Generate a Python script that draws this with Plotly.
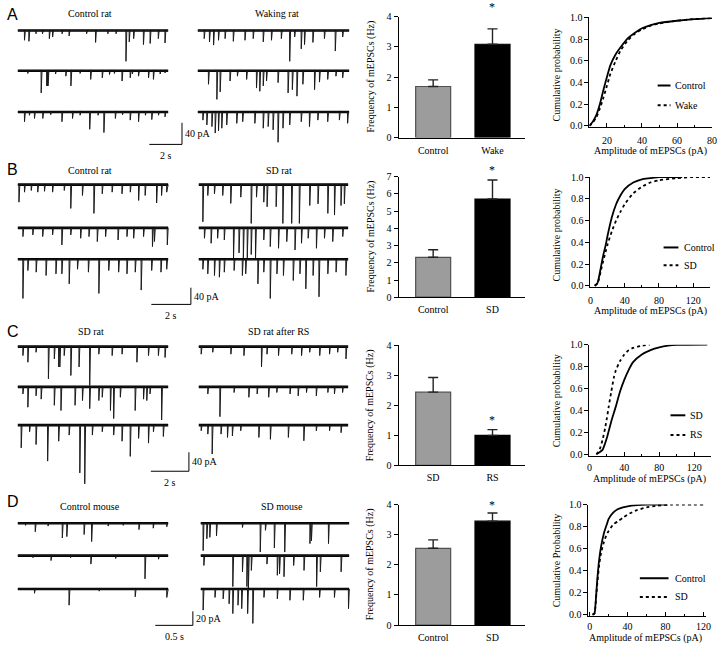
import plotly.graph_objects as go

W, H = 720, 650
SERIF = "Liberation Serif, Times New Roman, serif"
SANS = "Liberation Sans, Arial, sans-serif"

# ------------------------------------------------------------------ data
# mEPSC sweeps: event times (s) and amplitudes (pA), three sweeps per condition
A_ctrl_t = [[0.40, 0.67, 1.10, 1.50, 1.92, 2.12, 2.70, 3.13, 4.20, 4.75, 5.50, 6.00, 6.61, 6.81, 7.08, 7.68, 8.09, 8.59, 9.00],
            [0.60, 1.42, 1.76, 1.80, 1.84, 2.30, 2.93, 3.24, 3.80, 4.45, 5.16, 5.60, 5.90, 6.37, 6.87, 7.00, 7.38, 7.99, 8.29, 8.70, 9.00],
            [0.40, 0.70, 1.01, 1.52, 2.00, 2.69, 3.34, 3.80, 4.39, 4.90, 5.26, 5.96, 6.40, 6.87, 7.38, 7.80, 8.19, 8.60, 9.00]]
A_ctrl_a = [[18, 20, 6, 6, 15, 12, 6, 10, 6, 22, 6, 6, 57, 21, 15, 26, 24, 15, 23],
            [5, 41, 28, 28, 28, 6, 10, 28, 5, 16, 13, 7, 5, 19, 13, 6, 10, 13, 16, 6, 4],
            [18, 6, 12, 12, 5, 18, 12, 6, 32, 6, 38, 12, 5, 15, 18, 6, 14, 6, 9]]
A_wake_t = [[0.38, 0.70, 0.95, 1.25, 1.65, 2.15, 2.86, 3.36, 3.97, 4.47, 5.07, 5.58, 5.88, 6.28, 6.48, 6.99, 7.69, 8.35, 8.80],
            [0.64, 1.15, 1.35, 1.95, 2.40, 2.96, 3.56, 3.76, 3.97, 4.17, 4.87, 5.48, 5.74, 6.02, 6.38, 7.09, 7.39, 7.89, 8.39, 8.80],
            [0.30, 0.54, 0.85, 1.05, 1.25, 1.45, 1.75, 2.36, 2.72, 3.46, 3.97, 4.27, 4.57, 4.87, 5.17, 5.58, 6.28, 6.78, 7.29, 7.89, 8.60, 9.10]]
A_wake_a = [[15, 21, 27, 18, 15, 20, 18, 15, 21, 18, 15, 57, 12, 34, 26, 22, 15, 38, 12],
            [25, 53, 39, 19, 10, 16, 32, 38, 28, 19, 22, 41, 35, 47, 25, 35, 21, 16, 10, 13],
            [15, 24, 27, 39, 35, 30, 24, 21, 18, 21, 30, 27, 33, 56, 30, 24, 18, 27, 15, 18, 15, 21]]

B_ctrl_t = [[0.05, 0.33, 0.67, 1.00, 1.34, 1.75, 2.34, 2.67, 3.26, 3.84, 4.26, 4.76, 5.26, 5.68, 6.10, 6.43, 7.01, 7.26, 7.52],
            [0.25, 0.75, 1.25, 1.75, 2.22, 2.67, 3.17, 3.59, 4.01, 4.43, 5.06, 5.51, 5.85, 6.35, 6.80, 6.90, 7.55],
            [0.25, 0.50, 0.92, 1.42, 1.92, 2.22, 2.59, 3.01, 3.56, 4.09, 4.59, 5.09, 5.51, 5.93, 6.23, 6.76, 7.23, 7.52]]
B_ctrl_a = [[42, 18, 14, 18, 16, 18, 14, 57, 26, 69, 22, 18, 22, 18, 38, 26, 44, 26, 18],
            [21, 17, 21, 17, 41, 17, 25, 21, 33, 21, 29, 21, 25, 21, 45, 33, 41],
            [94, 27, 31, 39, 35, 35, 59, 24, 31, 82, 27, 31, 35, 31, 74, 27, 31, 24]]
B_sd_t = [[0.20, 0.45, 0.79, 1.21, 1.62, 2.13, 2.66, 2.93, 3.30, 3.47, 3.93, 4.27, 4.72, 5.11, 5.64, 6.06, 6.56, 6.90, 7.23, 7.40],
          [0.28, 0.62, 0.95, 1.29, 1.76, 2.04, 2.26, 2.46, 2.66, 2.88, 3.30, 3.63, 4.05, 4.47, 4.89, 5.22, 5.56, 5.98, 6.39, 6.81, 7.32],
          [0.20, 0.45, 0.79, 1.04, 1.29, 1.79, 2.21, 2.38, 3.00, 3.30, 3.63, 3.97, 4.30, 4.80, 5.14, 5.44, 5.81, 6.11, 6.56, 6.98, 7.48]]
B_sd_a = [[89, 26, 22, 26, 45, 30, 93, 30, 42, 53, 53, 93, 93, 93, 50, 46, 69, 73, 50, 46],
          [25, 37, 25, 29, 72, 60, 72, 72, 64, 72, 29, 45, 49, 33, 53, 37, 25, 49, 25, 33, 21],
          [24, 35, 39, 43, 31, 27, 39, 35, 59, 31, 94, 35, 39, 51, 35, 71, 39, 90, 35, 31, 39]]

C_sd_t = [[0.26, 0.52, 0.95, 1.60, 1.91, 2.14, 2.20, 2.43, 2.78, 3.21, 3.77, 4.25, 4.95, 5.47, 6.25, 6.86, 7.38, 7.73],
          [0.26, 0.52, 0.95, 1.22, 1.91, 2.26, 3.00, 3.39, 3.77, 4.25, 4.43, 4.86, 5.03, 5.38, 6.16, 6.60, 6.77, 6.94, 7.55],
          [0.17, 0.61, 0.95, 1.56, 2.14, 2.69, 3.25, 3.51, 3.91, 4.43, 5.03, 5.47, 5.90, 6.34, 6.86, 7.12, 7.64]]
C_sd_a = [[19, 33, 12, 68, 26, 43, 43, 19, 61, 43, 82, 16, 19, 16, 33, 19, 19, 23],
          [15, 43, 19, 26, 39, 50, 39, 29, 46, 29, 22, 50, 67, 22, 50, 26, 29, 15, 70],
          [48, 14, 41, 76, 34, 21, 101, 124, 21, 14, 21, 34, 66, 28, 38, 14, 24]]
C_rs_t = [[0.12, 0.73, 1.69, 2.38, 3.31, 3.60, 4.21, 4.91, 5.43, 5.86, 6.39, 6.91, 7.34, 7.78],
          [0.47, 1.11, 1.86, 2.64, 3.08, 3.69, 4.12, 4.82, 5.25, 5.69, 6.21, 6.82, 7.17, 7.60],
          [0.12, 0.47, 0.70, 1.17, 1.51, 1.77, 2.21, 3.17, 3.78, 4.73, 5.55, 6.21, 6.91, 7.52]]
C_rs_a = [[16, 12, 16, 19, 43, 16, 19, 16, 19, 12, 19, 16, 12, 26],
          [15, 63, 12, 22, 15, 22, 12, 15, 19, 12, 19, 12, 15, 12],
          [12, 19, 61, 19, 26, 23, 12, 26, 30, 26, 33, 12, 12, 16]]

D_ctrl_t = [[0.10, 0.23, 0.40, 0.59, 0.65, 0.88, 0.98, 1.20, 1.40, 1.61, 1.80, 1.98],
            [0.20, 0.44, 0.70, 0.97, 1.30, 1.69, 1.87],
            [0.22, 0.68, 1.08, 1.56, 1.98]]
D_ctrl_a = [[3, 12, 4, 21, 19, 16, 26, 4, 3, 9, 7, 5],
            [3, 7, 3, 12, 4, 33, 5],
            [6, 23, 3, 11, 12]]
D_sd_t = [[0.03, 0.08, 0.12, 0.21, 0.56, 0.80, 0.87, 0.99, 1.13, 1.47, 1.49, 1.72],
          [0.04, 0.43, 0.56, 0.62, 0.64, 0.68, 0.89, 1.03, 1.06, 1.12, 1.25, 1.39, 1.56, 1.61, 1.89],
          [0.03, 0.19, 0.30, 0.38, 0.43, 0.50, 0.55, 0.63, 0.70, 0.85, 1.03, 1.20, 1.38, 1.60, 1.80, 1.99]]
D_sd_a = [[39, 22, 20, 18, 6, 41, 10, 35, 41, 29, 25, 29],
          [14, 44, 23, 44, 46, 21, 12, 28, 26, 30, 14, 21, 44, 23, 23],
          [30, 12, 14, 21, 35, 23, 28, 35, 49, 12, 14, 16, 16, 12, 12, 28]]

# mEPSC frequency (Hz): mean and SEM
freq_A, sem_A, cats_A = [1.69, 3.09], [0.22, 0.51], ["Control", "Wake"]
freq_B, sem_B, cats_B = [2.32, 5.71], [0.44, 1.10], ["Control", "SD"]
freq_C, sem_C, cats_C = [2.44, 1.00], [0.49, 0.19], ["SD", "RS"]
freq_D, sem_D, cats_D = [2.55, 3.45], [0.28, 0.27], ["Control", "SD"]

# cumulative amplitude distributions (pA, probability)
cumA_ctrl_x = [10, 12, 14, 16, 18, 20, 22, 25, 28, 32, 36, 40, 45, 50, 60, 70, 80]
cumA_ctrl_y = [0, 0.04, 0.10, 0.20, 0.33, 0.45, 0.56, 0.66, 0.73, 0.81, 0.86, 0.90, 0.93, 0.95, 0.97, 0.985, 0.995]
cumA_wake_x = [10, 12, 14, 16, 18, 20, 22, 25, 28, 32, 36, 40, 45, 50, 60, 70, 80]
cumA_wake_y = [0, 0.03, 0.08, 0.16, 0.26, 0.37, 0.48, 0.60, 0.70, 0.79, 0.85, 0.89, 0.925, 0.945, 0.97, 0.985, 0.995]
cumB_ctrl_x = [5, 8, 10, 12, 15, 18, 20, 25, 30, 35, 40, 50, 60, 70, 80, 90, 107]
cumB_ctrl_y = [0, 0.02, 0.08, 0.16, 0.28, 0.38, 0.46, 0.63, 0.75, 0.83, 0.89, 0.95, 0.98, 0.99, 1.0, 1.0, 1.0]
cumB_sd_x = [5, 8, 10, 12, 15, 18, 20, 25, 30, 35, 40, 50, 60, 70, 80, 100, 120, 140]
cumB_sd_y = [0, 0.02, 0.06, 0.13, 0.23, 0.32, 0.38, 0.50, 0.60, 0.68, 0.75, 0.85, 0.91, 0.95, 0.97, 0.99, 1.0, 1.0]
cumC_sd_x = [8, 12, 15, 18, 20, 25, 30, 35, 40, 45, 50, 60, 70, 80, 90, 100, 135]
cumC_sd_y = [0, 0.02, 0.04, 0.10, 0.15, 0.30, 0.43, 0.57, 0.68, 0.77, 0.84, 0.91, 0.95, 0.975, 0.99, 0.997, 1.0]
cumC_rs_x = [8, 10, 12, 15, 18, 20, 22, 25, 28, 30, 35, 40, 45, 50, 60, 69]
cumC_rs_y = [0, 0.02, 0.05, 0.13, 0.24, 0.33, 0.43, 0.57, 0.70, 0.76, 0.85, 0.91, 0.95, 0.97, 0.99, 1.0]
cumD_ctrl_x = [3, 5, 6, 7, 8, 10, 12, 15, 18, 20, 25, 30, 35, 40, 50, 60, 82]
cumD_ctrl_y = [0, 0.01, 0.08, 0.20, 0.32, 0.50, 0.62, 0.74, 0.82, 0.87, 0.93, 0.96, 0.975, 0.985, 0.995, 1.0, 1.0]
cumD_sd_x = [3, 5, 6, 7, 8, 10, 12, 15, 18, 20, 25, 30, 35, 40, 50, 60, 70, 85, 120]
cumD_sd_y = [0, 0.01, 0.07, 0.18, 0.28, 0.45, 0.56, 0.66, 0.73, 0.76, 0.82, 0.85, 0.88, 0.91, 0.95, 0.975, 0.99, 1.0, 1.0]

# ------------------------------------------------------------------ helpers
fig = go.Figure()
shapes, annos = [], []
n_ax = [0]


def lin(va, pa, vb, pb):
    return lambda v: pa + (v - va) * (pb - pa) / (vb - va)


def add_axes(xmap, ymap, xr, yr, xopts=None, yopts=None):
    n_ax[0] += 1
    s = "" if n_ax[0] == 1 else str(n_ax[0])
    px0, px1 = sorted([xmap(xr[0]), xmap(xr[1])])
    py0, py1 = sorted([ymap(yr[0]), ymap(yr[1])])
    xa = dict(domain=[max(0, px0 / W), min(1, px1 / W)], range=list(xr), anchor="y" + s, fixedrange=True)
    ya = dict(domain=[max(0, 1 - py1 / H), min(1, 1 - py0 / H)], range=list(yr), anchor="x" + s, fixedrange=True)
    xa.update(xopts or {})
    ya.update(yopts or {})
    fig.update_layout(**{"xaxis" + s: xa, "yaxis" + s: ya})
    return "x" + s, "y" + s


def text(x, y, t, size=10, family=SERIF, xanchor="center", yanchor="middle", **kw):
    annos.append(dict(x=x / W, y=1 - y / H, xref="paper", yref="paper", text=t, showarrow=False,
                      xanchor=xanchor, yanchor=yanchor,
                      font=dict(family=family, size=size, color="black"), **kw))


HIDDEN = dict(visible=False, showgrid=False, zeroline=False)

# ------------------------------------------------------------------ traces
TRACE_ROWS = [
    dict(letter="A", letter_y=9, title_y=8, titles=("Control rat", "Waking rat"), title_x=(88, 277),
         left=(15, 167), right=(197, 350), bases=(25, 66, 108), pxpa=22 / 40, dur=9.2, decay=0.06,
         top=12, bottom=162, corner=(181, 141), bar=(40, 2), bar_txt=("40 pA", "2 s"),
         data=((A_ctrl_t, A_ctrl_a), (A_wake_t, A_wake_a))),
    dict(letter="B", letter_y=167, title_y=168, titles=("Control rat", "SD rat"), title_x=(88, 279),
         left=(15, 167), right=(198, 349), bases=(182, 226, 258), pxpa=17 / 40, dur=7.6, decay=0.05,
         top=170, bottom=320, corner=(190, 304), bar=(40, 2), bar_txt=("40 pA", "2 s"),
         data=((B_ctrl_t, B_ctrl_a), (B_sd_t, B_sd_a))),
    dict(letter="C", letter_y=332, title_y=332, titles=("SD rat", "SD rat after RS"), title_x=(89, 279),
         left=(15, 167), right=(198, 349), bases=(347, 388, 427), pxpa=19.3 / 40, dur=7.9, decay=0.05,
         top=335, bottom=492, corner=(188, 474), bar=(40, 2), bar_txt=("40 pA", "2 s"),
         data=((C_sd_t, C_sd_a), (C_rs_t, C_rs_a))),
    dict(letter="D", letter_y=505, title_y=510, titles=("Control mouse", "SD mouse"), title_x=(88, 282),
         left=(15, 167), right=(200, 350), bases=(527, 560, 594), pxpa=14.3 / 20, dur=2.0, decay=0.013,
         top=515, bottom=645, corner=(192, 631), bar=(20, 0.5), bar_txt=("20 pA", "0.5 s"),
         data=((D_ctrl_t, D_ctrl_a), (D_sd_t, D_sd_a))),
]

for row in TRACE_ROWS:
    text(2, row["letter_y"], row["letter"], size=16, family=SANS, xanchor="left")
    for tx, tt in zip(row["title_x"], row["titles"]):
        text(tx, row["title_y"], tt, size=10)
    b0, k, dur = row["bases"][0], row["pxpa"], row["dur"]
    ymap = lin(0, b0, -1, b0 + k)
    yinv = lin(b0, 0, b0 + k, -1)
    offsets = [yinv(b) for b in row["bases"]]
    for ci, (col, box, (tlist, alist)) in enumerate(zip((row["left"], row["right"]),
                                                      ((4, 200), (185, 358)), row["data"])):
        xmap = lin(0, col[0], dur, col[1])
        xinv = lin(col[0], 0, col[1], dur)
        xr = (xinv(box[0]), xinv(box[1]))
        yr = (yinv(row["bottom"]), yinv(row["top"]))
        xa, ya = add_axes(xmap, ymap, xr, yr, HIDDEN, HIDDEN)
        for off, ts, amps in zip(offsets, tlist, alist):
            # baseline (noise band)
            fig.add_trace(go.Scatter(x=[0, dur], y=[off, off], mode="lines", xaxis=xa, yaxis=ya,
                                     line=dict(color="black", width=2.6), hoverinfo="skip", showlegend=False))
            xs, ys = [0], [off]
            for t, a in sorted(zip(ts, amps)):
                xs += [t, t + row["decay"] * 0.15, t + row["decay"]]
                ys += [off, off - a, off]
            xs.append(dur)
            ys.append(off)
            fig.add_trace(go.Scatter(x=xs, y=ys, mode="lines", xaxis=xa, yaxis=ya,
                                     line=dict(color="#1a1a1a", width=1), hoverinfo="skip", showlegend=False))
        if ci == 0:
            ct, cv = xinv(row["corner"][0]), yinv(row["corner"][1])
            bp, bs = row["bar"]
            shapes.append(dict(type="line", xref=xa, yref=ya, x0=ct, x1=ct, y0=cv, y1=cv + bp,
                               line=dict(color="black", width=1)))
            shapes.append(dict(type="line", xref=xa, yref=ya, x0=ct - bs, x1=ct, y0=cv, y1=cv,
                               line=dict(color="black", width=1)))
            annos.append(dict(x=ct, y=cv + bp / 2, xref=xa, yref=ya, text=row["bar_txt"][0], showarrow=False,
                              xanchor="left", yanchor="middle", xshift=1,
                              font=dict(family=SERIF, size=10, color="black")))
            annos.append(dict(x=ct - bs / 2, y=cv, xref=xa, yref=ya, text=row["bar_txt"][1], showarrow=False,
                              xanchor="center", yanchor="top", yshift=-4,
                              font=dict(family=SERIF, size=10, color="black")))

# ------------------------------------------------------------------ bar charts
BAR_ROWS = [
    dict(vals=freq_A, errs=sem_A, cats=cats_A, y0=134, ytop=11, ymax=4, star=1, sshift=13, tcy=72),
    dict(vals=freq_B, errs=sem_B, cats=cats_B, y0=296.7, ytop=174, ymax=7, star=1, sshift=1, tcy=235),
    dict(vals=freq_C, errs=sem_C, cats=cats_C, y0=468, ytop=345.7, ymax=4, star=1, sshift=1, tcy=407),
    dict(vals=freq_D, errs=sem_D, cats=cats_D, y0=630.7, ytop=508, ymax=4, star=1, sshift=-1, tcy=569),
]
AXFONT = dict(family=SERIF, size=10, color="black")
for br in BAR_ROWS:
    xmap = lin(0, 435, 1, 495)
    ymap = lin(0, br["y0"], br["ymax"], br["ytop"])
    xa, ya = add_axes(xmap, ymap, (-0.583, 1.55), (0, br["ymax"]),
                      dict(showline=True, linecolor="black", linewidth=1, showgrid=False, zeroline=False,
                           tickvals=[0, 1], ticktext=br["cats"], ticks="", tickfont=AXFONT,
                           ticklabelstandoff=3),
                      dict(showline=True, linecolor="black", linewidth=1, showgrid=False, zeroline=False,
                           ticks="outside", ticklen=4, tickcolor="black", dtick=1, tickfont=AXFONT))
    fig.add_trace(go.Bar(x=[0, 1], y=br["vals"], width=0.59, xaxis=xa, yaxis=ya, showlegend=False,
                         marker=dict(color=["#9c9c9c", "#000000"], line=dict(color=["#505050", "#000000"], width=1.2)),
                         error_y=dict(type="data", array=br["errs"], arrayminus=[0, 0], symmetric=False,
                                      color="#222", thickness=1.4, width=5)))
    i = br["star"]
    annos.append(dict(x=i, y=br["vals"][i] + br["errs"][i], xref=xa, yref=ya, text="*", showarrow=False,
                      xanchor="center", yanchor="bottom", yshift=br["sshift"],
                      font=dict(family=SERIF, size=12, color="black")))
    text(372, br["tcy"], "Frequency of mEPSCs (Hz)", size=10, textangle=-90)

# ------------------------------------------------------------------ cumulative plots
CUM_ROWS = [
    dict(xmap=lin(10, 593, 80, 717), xr=(10, 80), ymap=lin(0, 122, 1, 11.7), dtick=20, minor=10,
         curves=((cumA_ctrl_x, cumA_ctrl_y), (cumA_wake_x, cumA_wake_y)), names=("Control", "Wake"),
         leg=(662, 675, 81, 101, 678), ttl="Cumulative probability", tcy=70, xt=(655, 148), stand=4),
    dict(xmap=lin(0, 594, 120, 698), xr=(0, 139.6), ymap=lin(0, 285, 1, 174.3), dtick=40, minor=20,
         curves=((cumB_ctrl_x, cumB_ctrl_y), (cumB_sd_x, cumB_sd_y)), names=("Control", "SD"),
         leg=(668, 683, 246, 264, 687), ttl="Cumulative probability", tcy=233, xt=(655, 311), stand=4),
    dict(xmap=lin(0, 593, 120, 699), xr=(0, 139), ymap=lin(0, 456.7, 1, 345), dtick=40, minor=20,
         curves=((cumC_sd_x, cumC_sd_y), (cumC_rs_x, cumC_rs_y)), names=("SD", "RS"),
         leg=(675, 690, 417, 437, 693), ttl="Cumulative probability", tcy=402, xt=(654, 482), stand=2),
    dict(xmap=lin(0, 593.3, 120, 708.3), xr=(-1.4, 122.7), ymap=lin(0, 620, 1, 508), dtick=40, minor=20,
         curves=((cumD_ctrl_x, cumD_ctrl_y), (cumD_sd_x, cumD_sd_y)), names=("Control", "SD"),
         leg=(644, 673, 583, 602, 678), ttl="Cumulative Probability", tcy=565, xt=(650, 644), stand=1),
]
for cr in CUM_ROWS:
    xa, ya = add_axes(cr["xmap"], cr["ymap"], cr["xr"], (-0.015, 1.0),
                      dict(showline=True, linecolor="black", linewidth=1, showgrid=False, zeroline=False,
                           ticks="inside", ticklen=4, tickcolor="black", tick0=0, dtick=cr["dtick"],
                           minor=dict(ticks="inside", ticklen=2, dtick=cr["minor"], tickcolor="black"),
                           tickfont=AXFONT, ticklabelstandoff=cr["stand"]),
                      dict(showline=True, linecolor="black", linewidth=1, showgrid=False, zeroline=False,
                           ticks="outside", ticklen=4, tickcolor="black", tick0=0, dtick=0.2,
                           tickformat=".1f", tickfont=AXFONT))
    for (cx, cy), dash in zip(cr["curves"], ("solid", "dot")):
        fig.add_trace(go.Scatter(x=cx, y=cy, mode="lines", xaxis=xa, yaxis=ya, showlegend=False,
                                 line=dict(color="black", width=1.8, dash=dash, shape="spline", smoothing=0.6),
                                 hoverinfo="skip"))
    lx0, lx1, ly1, ly2, ltx = cr["leg"]
    for ly, dash, nm in ((ly1, "solid", cr["names"][0]), (ly2, "dot", cr["names"][1])):
        shapes.append(dict(type="line", xref="paper", yref="paper", x0=lx0 / W, x1=lx1 / W,
                           y0=1 - ly / H, y1=1 - ly / H, line=dict(color="black", width=2, dash=dash)))
        text(ltx, ly, nm, size=10, xanchor="left")
    text(560, cr["tcy"], cr["ttl"], size=10, textangle=-90)
    text(cr["xt"][0], cr["xt"][1], "Amplitude of mEPSCs (pA)", size=10)

fig.update_layout(width=W, height=H, margin=dict(l=0, r=0, t=0, b=0),
                  paper_bgcolor="white", plot_bgcolor="rgba(0,0,0,0)",
                  shapes=shapes, annotations=annos, showlegend=False,
                  font=dict(family=SERIF, color="black"))
fig.write_html("out.html", config={"displayModeBar": False, "staticPlot": True},
               post_script="document.body.style.margin='0';document.body.style.overflow='hidden';")
